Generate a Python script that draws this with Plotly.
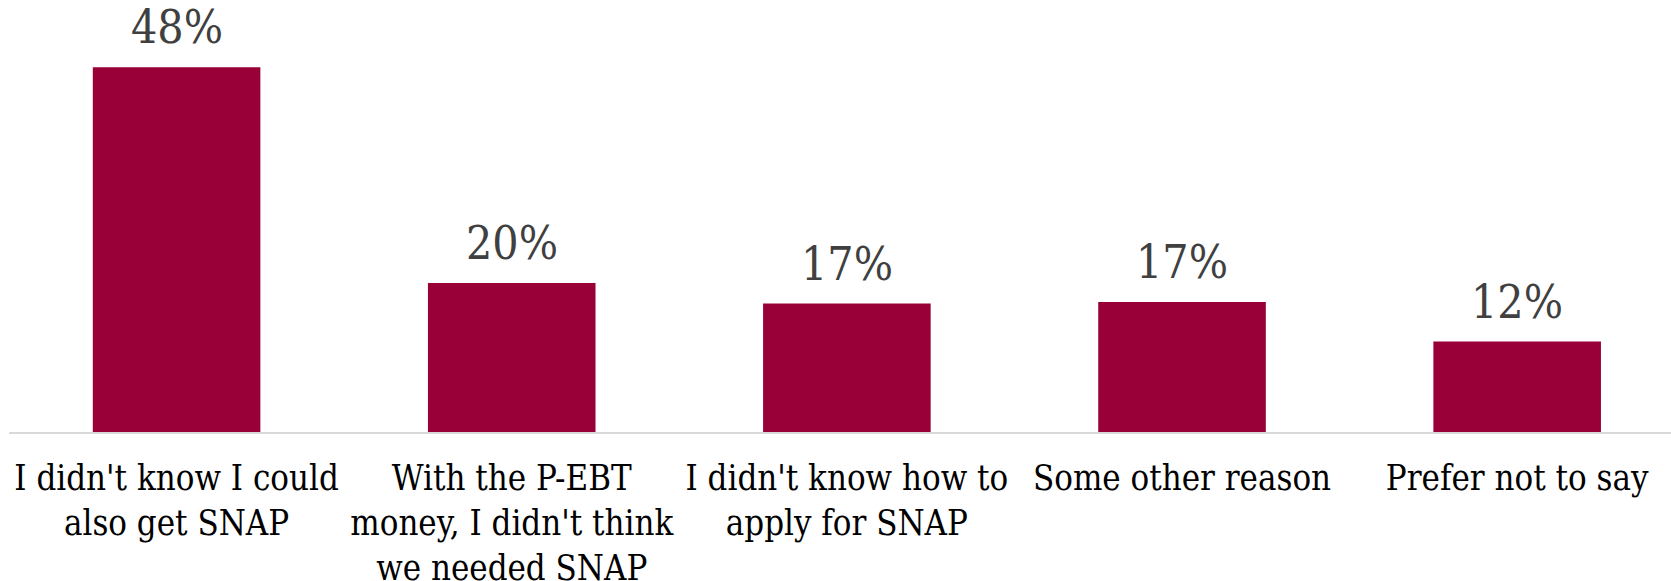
import plotly.graph_objects as go

# 回答カテゴリと割合(%)
categories = [
    "I didn't know I could<br>also get SNAP",
    "With the P-EBT<br>money, I didn't think<br>we needed SNAP",
    "I didn't know how to<br>apply for SNAP",
    "Some other reason",
    "Prefer not to say",
]
values = [48, 19.6, 16.9, 17.1, 11.9]

BAR_COLOR = "#990038"
FONT = "DejaVu Serif Condensed, DejaVu Serif, serif"

fig = go.Figure()

fig.add_trace(
    go.Bar(
        x=categories,
        y=values,
        marker=dict(color=BAR_COLOR, line=dict(width=0)),
        hoverinfo="skip",
    )
)

# 値ラベル（バーの上）
for cat, val in zip(categories, values):
    fig.add_annotation(
        x=cat,
        y=val,
        text=f"{val:.0f}%",
        showarrow=False,
        yanchor="bottom",
        yshift=11,
        font=dict(family=FONT, size=46, color="#404040"),
    )

fig.update_layout(
    width=1671,
    height=581,
    margin=dict(l=9, r=0, t=0, b=149, autoexpand=False),
    plot_bgcolor="white",
    paper_bgcolor="white",
    bargap=0.5,
    showlegend=False,
    xaxis=dict(
        type="category",
        range=[-0.5, 4.459],
        automargin=False,
        showline=True,
        linecolor="#d9d9d9",
        linewidth=1.5,
        showgrid=False,
        ticks="",
        tickfont=dict(family=FONT, size=34.5, color="#000000"),
        ticklabelstandoff=15,
    ),
    yaxis=dict(
        range=[0, 56.86],
        automargin=False,
        visible=False,
        showgrid=False,
        zeroline=False,
    ),
)

# bodyのデフォルト余白を消す
fig.write_html(
    "out.html",
    config={"displayModeBar": False},
    post_script="document.body.style.margin='0';",
)
